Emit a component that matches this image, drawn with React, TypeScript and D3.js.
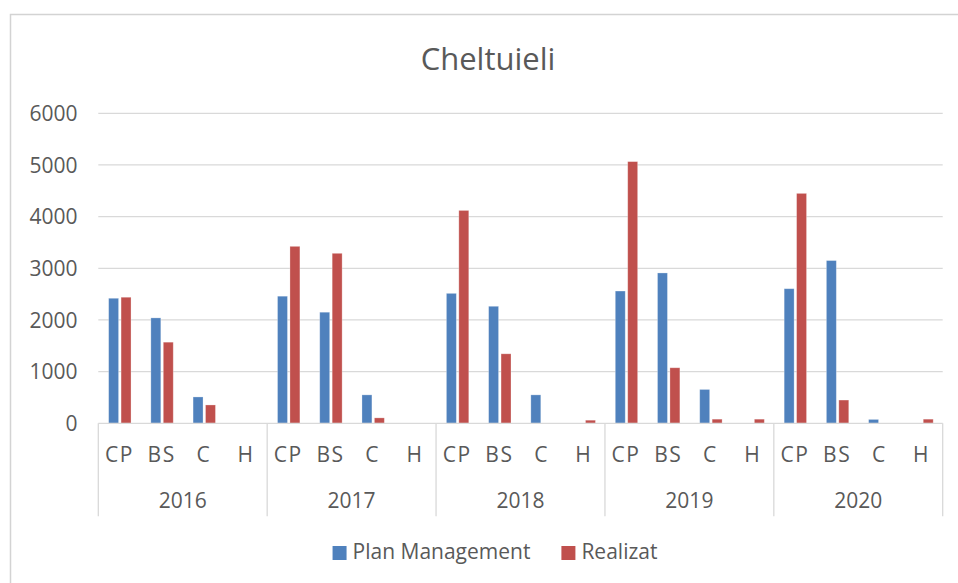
import { useEffect, useRef } from 'react';
import * as d3 from 'd3';

const years = ['2016', '2017', '2018', '2019', '2020'];
const subCategories = ['CP', 'BS', 'C', 'H'];
const seriesNames = ['Plan Management', 'Realizat'];
const seriesColors = ['#4f81bd', '#c0504d'];

// values per year, in subCategories order
const planManagement = [
  [2420, 2040, 510, 0],
  [2460, 2150, 550, 0],
  [2515, 2265, 550, 0],
  [2560, 2910, 655, 0],
  [2605, 3150, 75, 0],
];
const realizat = [
  [2440, 1570, 355, 0],
  [3425, 3290, 105, 0],
  [4120, 1345, 0, 60],
  [5065, 1075, 80, 80],
  [4450, 450, 0, 80],
];
const yTicks = [0, 1000, 2000, 3000, 4000, 5000, 6000];

const FONT = '"Open Sans", sans-serif';
const TEXT = '#595959';
const GRID = '#d9d9d9';

export default function App() {
  const svgRef = useRef<SVGSVGElement>(null);

  useEffect(() => {
    if (!svgRef.current) return;
    document.body.style.margin = '0';
    const width = 958;
    const height = 583;
    const margin = { left: 98.3, right: 15.3, top: 113.3, bottom: 159.7 };

    const svg = d3.select(svgRef.current);
    svg.selectAll('*').remove();
    svg.attr('width', width).attr('height', height).style('font-family', FONT);

    // chart frame
    svg.append('rect')
      .attr('x', 10.5).attr('y', 14.5)
      .attr('width', 1000).attr('height', 1000)
      .attr('fill', '#fff')
      .attr('stroke', '#d3d3d3')
      .attr('stroke-width', 1.5);

    const plotW = width - margin.left - margin.right;
    const y0 = height - margin.bottom;

    const categories: { year: string; sub: string; key: string; values: number[] }[] = [];
    years.forEach((yr, i) => {
      subCategories.forEach((s, j) => {
        categories.push({ year: yr, sub: s, key: `${yr}-${s}`, values: [planManagement[i][j], realizat[i][j]] });
      });
    });

    const x = d3.scaleBand<string>()
      .domain(categories.map(c => c.key))
      .range([margin.left, margin.left + plotW]);
    const bw = x.bandwidth();
    const xs = d3.scaleBand<number>()
      .domain([0, 1])
      .range([bw * 0.245, bw * 0.775])
      .paddingInner(0.2);
    const y = d3.scaleLinear().domain([0, 6000]).range([y0, margin.top]);

    // gridlines
    svg.append('g')
      .selectAll('line')
      .data(yTicks.filter(t => t > 0))
      .join('line')
      .attr('x1', margin.left).attr('x2', margin.left + plotW)
      .attr('y1', d => y(d)).attr('y2', d => y(d))
      .attr('stroke', GRID).attr('stroke-width', 1.3);

    // y labels
    svg.append('g')
      .selectAll('text')
      .data(yTicks)
      .join('text')
      .attr('x', 77.5)
      .attr('y', d => y(d))
      .attr('dy', '0.36em')
      .attr('text-anchor', 'end')
      .attr('fill', TEXT)
      .attr('font-size', 21)
      .text(d => String(d));

    // bars
    const g = svg.append('g');
    categories.forEach(c => {
      g.append('g')
        .selectAll('rect')
        .data(c.values)
        .join('rect')
        .attr('x', (_, i) => (x(c.key) || 0) + (xs(i) || 0))
        .attr('width', xs.bandwidth())
        .attr('y', d => y(d))
        .attr('height', d => y0 - y(d))
        .attr('fill', (_, i) => seriesColors[i])
        .attr('stroke', 'rgba(255,255,255,0.35)')
        .attr('stroke-width', 0.8);
    });

    // x axis line + group separators
    svg.append('line')
      .attr('x1', margin.left).attr('x2', margin.left + plotW)
      .attr('y1', y0).attr('y2', y0)
      .attr('stroke', GRID).attr('stroke-width', 1.3);

    const groupEdges = years.map(yr => x(`${yr}-CP`) || 0).concat([margin.left + plotW]);
    svg.append('g')
      .selectAll('line')
      .data(groupEdges)
      .join('line')
      .attr('x1', d => d).attr('x2', d => d)
      .attr('y1', y0).attr('y2', y0 + 93)
      .attr('stroke', GRID).attr('stroke-width', 1.3);

    // sub-category labels
    svg.append('g')
      .selectAll('text')
      .data(categories)
      .join('text')
      .attr('x', d => (x(d.key) || 0) + bw / 2)
      .attr('y', 461.5)
      .attr('text-anchor', 'middle')
      .attr('fill', TEXT)
      .attr('font-size', 21)
      .attr('letter-spacing', 1.5)
      .text(d => d.sub);

    // year labels
    svg.append('g')
      .selectAll('text')
      .data(years)
      .join('text')
      .attr('x', yr => (x(`${yr}-CP`) || 0) + bw * 2)
      .attr('y', 508)
      .attr('text-anchor', 'middle')
      .attr('fill', TEXT)
      .attr('font-size', 21)
      .text(yr => yr);

    // title
    svg.append('text')
      .attr('x', 488)
      .attr('y', 69.5)
      .attr('text-anchor', 'middle')
      .attr('fill', TEXT)
      .attr('font-size', 31)
      .text('Cheltuieli');

    // legend, centered under the plot
    const legend = svg.append('g');
    const items = legend.selectAll('g')
      .data(seriesNames)
      .join('g');
    items.append('rect')
      .attr('width', 14).attr('height', 14)
      .attr('y', 546)
      .attr('fill', (_, i) => seriesColors[i]);
    items.append('text')
      .attr('x', 20)
      .attr('y', 558.5)
      .attr('fill', TEXT)
      .attr('font-size', 21)
      .text(d => d);
    const widths: number[] = [];
    items.select('text').each(function () {
      widths.push((this as SVGTextElement).getComputedTextLength() + 20);
    });
    const gap = 31;
    const total = d3.sum(widths) + gap * (widths.length - 1);
    let cx = 495 - total / 2;
    items.attr('transform', (_, i) => {
      const t = `translate(${cx},0)`;
      cx += widths[i] + gap;
      return t;
    });
  }, []);

  return <svg ref={svgRef} style={{ display: 'block' }} />;
}
